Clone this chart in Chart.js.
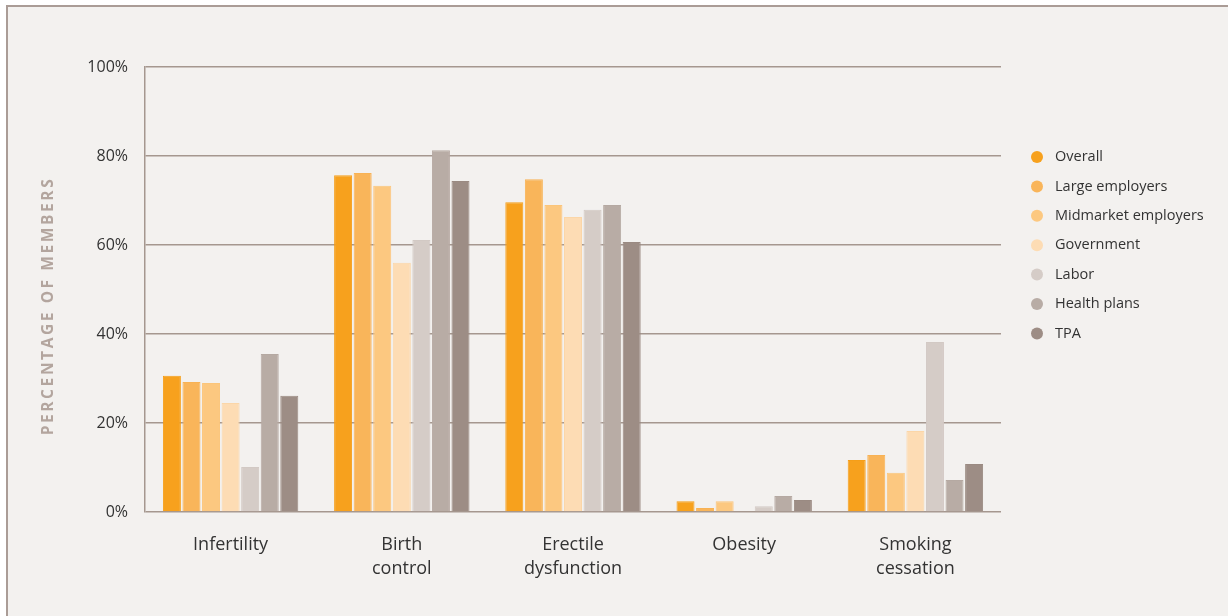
<!DOCTYPE html>
<html>
<head>
<meta charset="utf-8">
<title>Percentage of members by program</title>
<script src="https://cdn.jsdelivr.net/npm/chart.js@4"></script>
<style>
  html, body { margin: 0; padding: 0; background: #ffffff; }
  #frame {
    position: absolute; left: 6px; top: 5px; width: 1222px; height: 611px;
    background: #f3f1ef; border-left: 2px solid #aa9c96; border-top: 2px solid #aa9c96;
    box-sizing: border-box;
  }
  #wrap { position: absolute; left: 0; top: 0; width: 1228px; height: 616px; }
</style>
</head>
<body>
<div id="frame"></div>
<div id="wrap"><canvas id="chart" width="1228" height="616"></canvas></div>
<script>
const categories = [
  'Infertility',
  ['Birth', 'control'],
  ['Erectile', 'dysfunction'],
  'Obesity',
  ['Smoking', 'cessation']
];

const seriesNames = ['Overall', 'Large employers', 'Midmarket employers', 'Government', 'Labor', 'Health plans', 'TPA'];

const overall    = [30.6, 75.7, 69.6, 2.4, 11.7];
const large      = [29.2, 76.2, 74.8, 0.9, 12.8];
const midmarket  = [29.0, 73.3, 69.0, 2.4, 8.8];
const government = [24.5, 56.0, 66.3, 0.0, 18.2];
const labor      = [10.1, 61.1, 67.9, 1.3, 38.2];
const healthPlans = [35.5, 81.3, 69.0, 3.6, 7.2];
const tpa        = [26.1, 74.4, 60.7, 2.7, 10.8];

const yTicks = [0, 20, 40, 60, 80, 100];

const fills   = ['#f7a11d', '#f9b55a', '#fcc880', '#fddcb4', '#d5ccc7', '#b8aca5', '#9d8d85'];
const borders = ['#f59e18', '#f8b254', '#fbc57a', '#fbd6a8', '#d2c9c4', '#b5a9a2', '#9a8a82'];

const seriesValues = [overall, large, midmarket, government, labor, healthPlans, tpa];

const FONT = '"Open Sans", "Noto Sans", sans-serif';
const GRID = '#a5978f';

// Rotated, letter-spaced axis title on the left
const axisTitle = {
  id: 'axisTitle',
  afterDraw(chart) {
    const ctx = chart.ctx;
    ctx.save();
    ctx.translate(49, 306);
    ctx.rotate(-Math.PI / 2);
    ctx.font = 'bold 15.5px ' + FONT;
    ctx.fillStyle = '#b3a59e';
    ctx.textAlign = 'center';
    ctx.textBaseline = 'middle';
    if ('letterSpacing' in ctx) ctx.letterSpacing = '2.6px';
    ctx.fillText('PERCENTAGE OF MEMBERS', 0, 0);
    ctx.restore();
  }
};

// Legend column to the right of the plot: dot + series name
const sideLegend = {
  id: 'sideLegend',
  afterDraw(chart) {
    const ctx = chart.ctx;
    ctx.save();
    ctx.font = '14.5px ' + FONT;
    ctx.textBaseline = 'middle';
    ctx.textAlign = 'left';
    chart.data.datasets.forEach((ds, i) => {
      const y = 157 + i * 29.4;
      ctx.beginPath();
      ctx.arc(1037, y, 6, 0, Math.PI * 2);
      ctx.fillStyle = ds.backgroundColor;
      ctx.fill();
      ctx.fillStyle = '#333333';
      ctx.fillText(ds.label, 1055, y);
    });
    ctx.restore();
  }
};

new Chart(document.getElementById('chart'), {
  type: 'bar',
  data: {
    labels: categories,
    datasets: seriesNames.map((name, i) => ({
      label: name,
      data: seriesValues[i],
      backgroundColor: fills[i],
      borderColor: borders[i],
      borderWidth: 1,
      categoryPercentage: 0.8,
      barPercentage: 0.92
    }))
  },
  options: {
    responsive: false,
    animation: false,
    devicePixelRatio: 1,
    layout: { padding: { left: 0, right: 227, top: 67, bottom: 0 } },
    plugins: {
      legend: { display: false },
      tooltip: { enabled: false }
    },
    scales: {
      x: {
        grid: { display: false },
        border: { display: false },
        ticks: {
          color: '#333333',
          font: { family: FONT, size: 18, lineHeight: 1.33 },
          padding: 13,
          maxRotation: 0
        },
        afterFit(scale) { scale.height = 616 - 512; }
      },
      y: {
        min: 0,
        max: 100,
        afterBuildTicks(scale) { scale.ticks = yTicks.map(v => ({ value: v })); },
        grid: { color: GRID, lineWidth: 1.5, drawTicks: false, tickLength: 0 },
        border: { display: true, color: GRID, width: 1.5 },
        ticks: {
          color: '#333333',
          font: { family: FONT, size: 16 },
          padding: 17,
          callback: v => v + '%'
        },
        afterFit(scale) { scale.width = 145; }
      }
    }
  },
  plugins: [axisTitle, sideLegend]
});
</script>
</body>
</html>
